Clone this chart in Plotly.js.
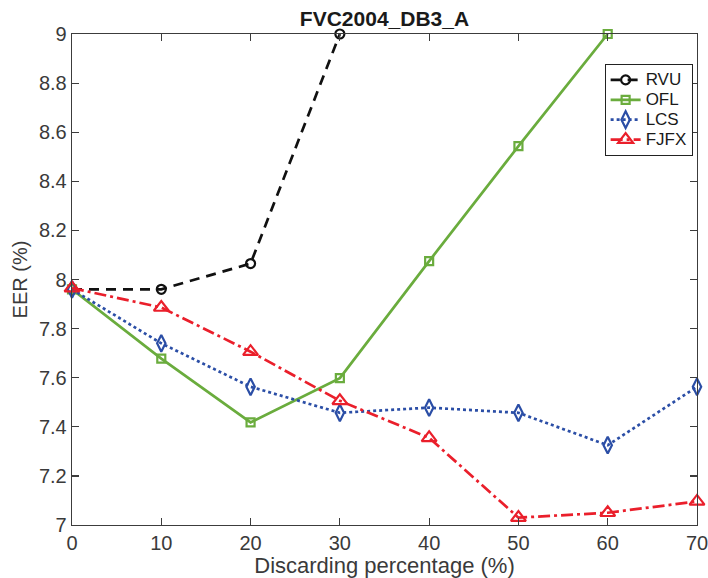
<!DOCTYPE html>
<html>
<head>
<meta charset="utf-8">
<script src="https://cdn.plot.ly/plotly-3.0.1.min.js"></script>
<style>
  html, body { margin: 0; padding: 0; background: #fff; }
  #chart { width: 708px; height: 578px; }
</style>
</head>
<body>
<div id="chart"></div>
<script>
// Discarding percentage (%)
const discard = [0, 10, 20, 30, 40, 50, 60, 70];

// EER (%) per method
const rvu  = [7.96, 7.96, 8.065, 9.0];
const ofl  = [7.96, 7.678, 7.418, 7.598, 8.075, 8.543, 9.0];
const lcs  = [7.96, 7.740, 7.563, 7.457, 7.478, 7.457, 7.325, 7.563];
const fjfx = [7.965, 7.886, 7.706, 7.506, 7.355, 7.030, 7.050, 7.096];

const yTicks = [7, 7.2, 7.4, 7.6, 7.8, 8, 8.2, 8.4, 8.6, 8.8, 9];
const xTicks = [0, 10, 20, 30, 40, 50, 60, 70];

const FONT = '"Liberation Sans", Arial, Helvetica, sans-serif';
const AX = '#3c3c3c';

// Legend entries use a compact row height with slightly larger label text
function legendLabel(s) {
  return '<span style="font-size:17px">' + s + '</span>';
}

function series(name, y, color, dash, symbol, size) {
  return {
    x: discard.slice(0, y.length),
    y: y,
    name: legendLabel(name),
    type: 'scatter',
    mode: 'lines+markers',
    cliponaxis: false,
    line: { color: color, width: 2.7, dash: dash },
    marker: { symbol: symbol, size: size, color: color, line: { color: color, width: 2.2 } }
  };
}

const data = [
  series('RVU',  rvu,  '#111111', '10px,7px', 'circle-open', 9),
  series('OFL',  ofl,  '#6aac3d', 'solid', 'square-open', 8),
  series('LCS',  lcs,  '#2b4ea6', 'dot', 'diamond-tall-open', 12),
  series('FJFX', fjfx, '#ea1f2b', '12px,4px,3px,4px', 'triangle-up-open', 13)
];

const axisCommon = {
  showgrid: false,
  zeroline: false,
  showline: true,
  mirror: 'ticks',
  linecolor: AX,
  linewidth: 1.3,
  ticks: 'inside',
  ticklen: 7,
  tickwidth: 1.2,
  tickcolor: AX,
  ticklabeloverflow: 'allow',
  tickfont: { family: FONT, size: 20, color: '#3a3a3a' }
};

const layout = {
  width: 708,
  height: 578,
  margin: { l: 72, r: 11, t: 34, b: 53 },
  paper_bgcolor: '#ffffff',
  plot_bgcolor: '#ffffff',
  showlegend: true,
  title: {
    text: '<b>FVC2004_DB3_A</b>',
    font: { family: FONT, size: 21, color: '#1a1a1a' },
    x: 0.5, xanchor: 'center', xref: 'paper',
    y: 1, yref: 'paper', yanchor: 'bottom', pad: { b: 8 }
  },
  xaxis: Object.assign({}, axisCommon, {
    range: [0, 70],
    tickvals: xTicks,
    ticktext: xTicks.map(String),
    title: { text: 'Discarding percentage (%)', font: { family: FONT, size: 22, color: '#3a3a3a' }, standoff: 0 }
  }),
  yaxis: Object.assign({}, axisCommon, {
    range: [7, 9],
    tickvals: yTicks,
    ticktext: yTicks.map(String),
    title: { text: 'EER (%)', font: { family: FONT, size: 20, color: '#3a3a3a' }, standoff: 6 }
  }),
  legend: {
    x: 0.993, xanchor: 'right',
    y: 0.939, yanchor: 'top',
    bgcolor: '#ffffff',
    bordercolor: '#222222',
    borderwidth: 1,
    font: { family: FONT, size: 13, color: '#1a1a1a' },
    tracegroupgap: 0,
    itemwidth: 30
  }
};

Plotly.newPlot('chart', data, layout, { displayModeBar: false, staticPlot: true });
</script>
</body>
</html>
